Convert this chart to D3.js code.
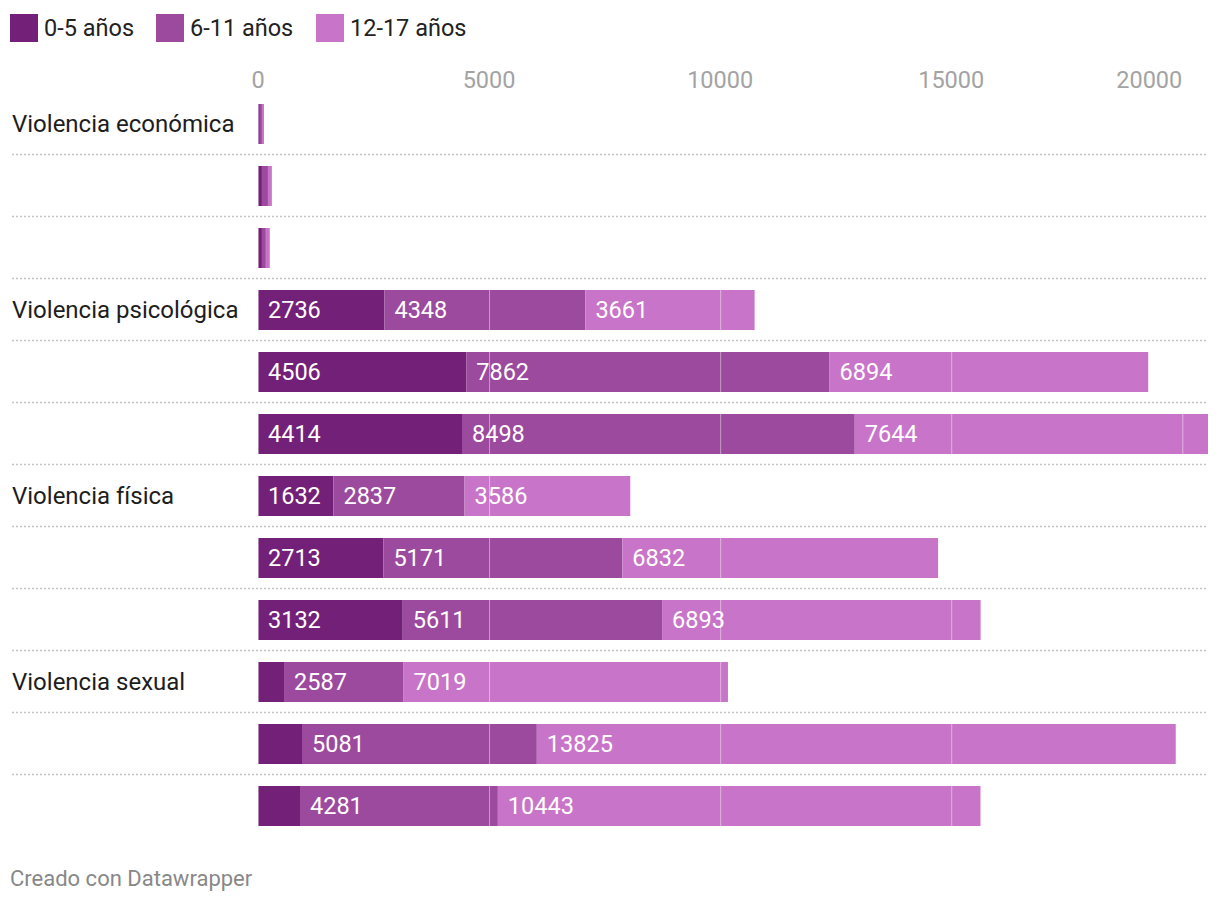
<!DOCTYPE html>
<html>
<head>
<meta charset="utf-8">
<script src="https://cdn.jsdelivr.net/npm/d3@7"></script>
<style>
  html, body { margin: 0; padding: 0; background: #fff; }
  svg { display: block; font-family: Roboto, "Noto Sans", sans-serif; }
</style>
</head>
<body>
<svg id="chart" width="1220" height="904"></svg>
<script>
const rowLabels = ["Violencia económica", "", "", "Violencia psicológica", "", "", "Violencia física", "", "", "Violencia sexual", "", ""];
const seriesNames = ["0-5 años", "6-11 años", "12-17 años"];
const age0_5  = [40, 85, 85, 2736, 4506, 4414, 1632, 2713, 3132, 563, 952, 909];
const age6_11 = [45, 130, 85, 4348, 7862, 8498, 2837, 5171, 5611, 2587, 5081, 4281];
const age12_17 = [45, 85, 85, 3661, 6894, 7644, 3586, 6832, 6893, 7019, 13825, 10443];
const tickValues = [0, 5000, 10000, 15000, 20000];
const colors = ["#732178", "#9c4a9e", "#c875c9"];

const svg = d3.select("#chart");
const series = [age0_5, age6_11, age12_17];
const totals = rowLabels.map((_, i) => series.reduce((s, a) => s + a[i], 0));

const x = d3.scaleLinear().domain([0, d3.max(totals)]).range([258, 1208]);
const y = d3.scaleBand().domain(d3.range(rowLabels.length)).range([93, 93 + 62 * 12]).paddingInner(22 / 62).paddingOuter(11 / 62);

const font = 23.5;

// Legend
const legendX = [10, 156, 316];
seriesNames.forEach((name, i) => {
  svg.append("rect").attr("x", legendX[i]).attr("y", 14).attr("width", 28).attr("height", 28).attr("fill", colors[i]);
  svg.append("text").attr("x", legendX[i] + 34).attr("y", 28).attr("dy", "0.35em").attr("font-size", font).attr("fill", "#222").text(name);
});

// Axis tick labels
const axisG = svg.append("g");
tickValues.forEach((t, i) => {
  const last = i === tickValues.length - 1;
  axisG.append("text")
    .attr("x", x(t))
    .attr("y", 88)
    .attr("text-anchor", last ? "end" : "middle")
    .attr("font-size", font)
    .attr("fill", "#a3a3a3")
    .text(d3.format("d")(t));
});

// Row labels
rowLabels.forEach((lab, i) => {
  if (!lab) return;
  svg.append("text")
    .attr("x", 12)
    .attr("y", y(i) + y.bandwidth() / 2)
    .attr("dy", "0.35em")
    .attr("font-size", 24)
    .attr("fill", "#1d1d1d")
    .text(lab);
});

// Separators
for (let i = 0; i < rowLabels.length - 1; i++) {
  const yy = y(i) + y.bandwidth() + 10.5;
  svg.append("line")
    .attr("x1", 12).attr("x2", 1208)
    .attr("y1", yy).attr("y2", yy)
    .attr("stroke", "#c4c4c4").attr("stroke-width", 1.3)
    .attr("stroke-dasharray", "2,2");
}

// Bars
const stacked = d3.stack().keys([0, 1, 2]).value((d, k) => series[k][d])(d3.range(rowLabels.length));
stacked.forEach((layer, k) => {
  svg.append("g").selectAll("rect").data(layer).join("rect")
    .attr("x", d => x(d[0]))
    .attr("y", d => y(d.data))
    .attr("width", d => x(d[1]) - x(d[0]))
    .attr("height", y.bandwidth())
    .attr("fill", colors[k]);
});

// Gridlines over bars
rowLabels.forEach((_, i) => {
  tickValues.forEach(t => {
    if (x(t) > x(totals[i])) return;
    svg.append("line")
      .attr("x1", x(t) + 0.5).attr("x2", x(t) + 0.5)
      .attr("y1", y(i)).attr("y2", y(i) + y.bandwidth())
      .attr("stroke", "rgba(255,255,255,0.45)").attr("stroke-width", 1);
  });
});

// Value labels
stacked.forEach((layer, k) => {
  layer.forEach(d => {
    const w = x(d[1]) - x(d[0]);
    if (w < 62) return;
    svg.append("text")
      .attr("x", x(d[0]) + 10)
      .attr("y", y(d.data) + y.bandwidth() / 2)
      .attr("dy", "0.35em")
      .attr("font-size", font)
      .attr("fill", "#fff")
      .text(series[k][d.data]);
  });
});

// Footer
svg.append("text").attr("x", 10).attr("y", 886).attr("font-size", 22).attr("fill", "#888").text("Creado con Datawrapper");
</script>
</body>
</html>
